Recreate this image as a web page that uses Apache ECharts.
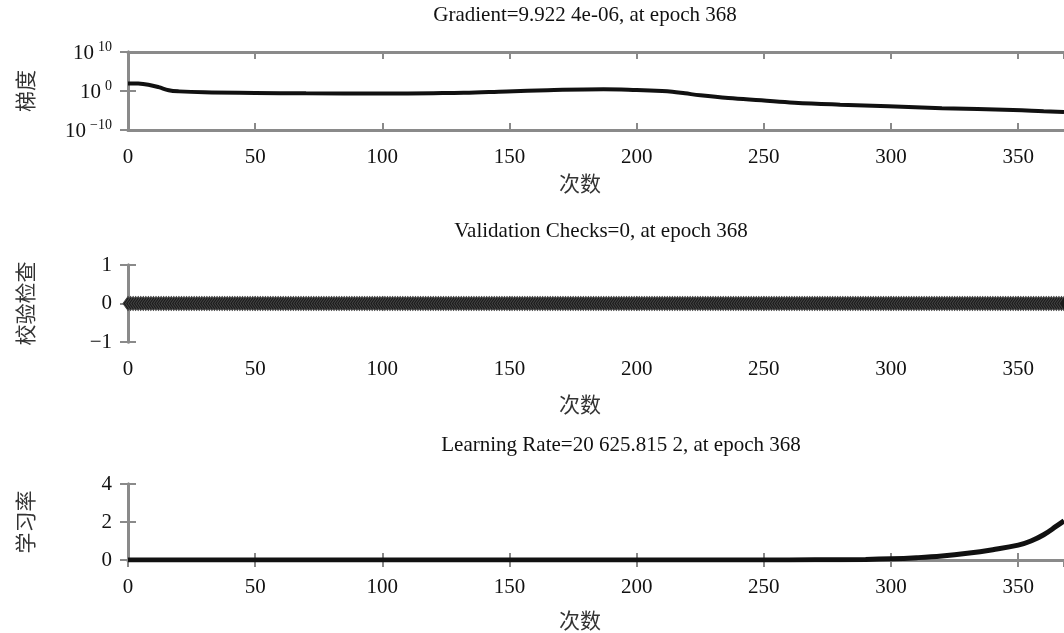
<!DOCTYPE html>
<html>
<head>
<meta charset="utf-8">
<script src="https://cdn.jsdelivr.net/npm/echarts@6/dist/echarts.min.js"></script>
<style>
  html, body { margin: 0; padding: 0; background: #fff; }
  #main { width: 1064px; height: 633px; }
</style>
</head>
<body>
<div id="main"></div>
<script>
// gradient
const gradEpochs = [0, 4, 8, 12, 16, 20, 30, 50, 70, 100, 120, 132, 149, 165, 187, 200, 210, 214, 219, 225, 236, 249, 262, 280, 299, 320, 348, 360, 368];
const gradValues = [90, 80, 40, 10, 1.6, 0.8, 0.45, 0.32, 0.25, 0.23, 0.28, 0.34, 0.8, 1.6, 2.8, 1.8, 1, 0.63, 0.25, 0.08, 0.016, 4e-3, 1e-3, 3.2e-4, 1.3e-4, 4e-5, 1.3e-5, 6.3e-6, 4e-6];

// validation checks: 0 at every epoch 0..368
const valEpochs = [];
for (let i = 0; i <= 368; i++) valEpochs.push(i);
const valChecks = valEpochs.map(() => 0);

// learning rate, in units of 10^4
const lrEpochs = [0, 50, 100, 150, 200, 250, 270, 290, 300, 310, 320, 330, 340, 350, 355, 360, 365, 368];
const lrValues = [0, 0, 0, 0, 0, 0, 0.01, 0.03, 0.06, 0.12, 0.21, 0.35, 0.54, 0.78, 1.0, 1.33, 1.78, 2.06];

const titles = ['Gradient=9.922 4e-06, at epoch 368', 'Validation Checks=0, at epoch 368', 'Learning Rate=20 625.815 2, at epoch 368'];
const yNames = ['梯度', '校验检查', '学习率'];
const xName = '次数';

const serif = 'Liberation Serif';
const cjk = 'Noto Sans CJK SC';
const frame = '#8a8a8a';
const fs = 21;

const grids = [
  { left: 128, top: 52, width: 942, height: 78 },
  { left: 128, top: 265, width: 942, height: 77 },
  { left: 128, top: 484, width: 942, height: 76 }
];

function pair(xs, ys) { return xs.map((x, i) => [x, ys[i]]); }

const xAxes = [];
const yAxes = [];
grids.forEach((g, i) => {
  xAxes.push({
    type: 'value', gridIndex: i, min: 0, max: 368, interval: 50, position: 'bottom',
    axisLine: { lineStyle: { color: frame, width: 3 } },
    axisTick: { inside: true, length: 7, lineStyle: { color: frame, width: 2 } },
    axisLabel: { margin: 17, fontFamily: serif, fontSize: fs, color: '#111', showMaxLabel: false },
    splitLine: { show: false }
  });
  xAxes.push({
    type: 'value', gridIndex: i, min: 0, max: 368, interval: 50, position: 'top',
    axisLine: { lineStyle: { color: frame, width: 3 } },
    axisTick: { inside: true, length: 7, lineStyle: { color: frame, width: 2 } },
    axisLabel: { show: false }, splitLine: { show: false }
  });
});

const yLabel = { margin: 16, fontFamily: serif, fontSize: fs, color: '#111' };
const yName = { fontFamily: cjk, fontSize: fs, color: '#333' };
const yCommon = {
  axisLine: { show: true, lineStyle: { color: frame, width: 3 } },
  axisTick: { inside: true, length: 8, lineStyle: { color: frame, width: 2 } },
  splitLine: { show: false }
};

// panel 1: log axis
yAxes.push(Object.assign({}, yCommon, {
  type: 'log', logBase: 10, gridIndex: 0, min: 1e-10, max: 1e10, splitNumber: 2, position: 'left',
  name: yNames[0], nameLocation: 'middle', nameGap: 92, nameTextStyle: yName,
  axisLabel: Object.assign({}, yLabel, {
    formatter: v => {
      const e = Math.round(Math.log10(v));
      return '{b|10}{s|' + (e < 0 ? '−' + (-e) : e) + '}';
    },
    rich: {
      b: { fontFamily: serif, fontSize: fs, color: '#111', verticalAlign: 'bottom', lineHeight: 24 },
      s: { fontFamily: serif, fontSize: 14, color: '#111', verticalAlign: 'top', padding: [0, 0, 0, 4] }
    }
  })
}));
yAxes.push(Object.assign({}, yCommon, {
  type: 'log', logBase: 10, gridIndex: 0, min: 1e-10, max: 1e10, splitNumber: 2, position: 'right',
  axisLabel: { show: false }
}));

const minusFmt = v => (v < 0 ? '−' + (-v) : String(v));
yAxes.push(Object.assign({}, yCommon, {
  type: 'value', gridIndex: 1, min: -1, max: 1, interval: 1, position: 'left',
  name: yNames[1], nameLocation: 'middle', nameGap: 92, nameTextStyle: yName,
  axisLabel: Object.assign({}, yLabel, { formatter: minusFmt })
}));
yAxes.push(Object.assign({}, yCommon, {
  type: 'value', gridIndex: 1, min: -1, max: 1, interval: 1, position: 'right', axisLabel: { show: false }
}));

yAxes.push(Object.assign({}, yCommon, {
  type: 'value', gridIndex: 2, min: 0, max: 4, interval: 2, position: 'left',
  name: yNames[2], nameLocation: 'middle', nameGap: 92, nameTextStyle: yName,
  axisLabel: yLabel
}));
yAxes.push(Object.assign({}, yCommon, {
  type: 'value', gridIndex: 2, min: 0, max: 4, interval: 2, position: 'right', axisLabel: { show: false }
}));

const titleStyle = { fontFamily: serif, fontSize: fs, fontWeight: 'normal', color: '#111' };
const xNameStyle = { fontFamily: cjk, fontSize: fs, fontWeight: 'normal', color: '#333' };

const option = {
  animation: false,
  backgroundColor: '#fff',
  title: [
    { text: titles[0], left: 585, top: 5, textAlign: 'center', textStyle: titleStyle, padding: 0 },
    { text: titles[1], left: 601, top: 221, textAlign: 'center', textStyle: titleStyle, padding: 0 },
    { text: titles[2], left: 621, top: 435, textAlign: 'center', textStyle: titleStyle, padding: 0 },
    { text: xName, left: 580, top: 173, textAlign: 'center', textStyle: xNameStyle, padding: 0 },
    { text: xName, left: 580, top: 394, textAlign: 'center', textStyle: xNameStyle, padding: 0 },
    { text: xName, left: 580, top: 610, textAlign: 'center', textStyle: xNameStyle, padding: 0 }
  ],
  grid: grids,
  xAxis: xAxes,
  yAxis: yAxes,
  series: [
    {
      type: 'line', xAxisIndex: 0, yAxisIndex: 0, data: pair(gradEpochs, gradValues),
      smooth: 0.4, showSymbol: false, lineStyle: { color: '#111', width: 4 }
    },
    {
      type: 'line', xAxisIndex: 2, yAxisIndex: 2, data: pair(valEpochs, valChecks),
      symbol: 'diamond', symbolSize: [10, 14], showAllSymbol: true, clip: false,
      itemStyle: { color: '#1a1a1a', borderColor: '#444', borderWidth: 1 },
      lineStyle: { color: '#111', width: 3 }
    },
    {
      type: 'line', xAxisIndex: 4, yAxisIndex: 4, data: pair(lrEpochs, lrValues),
      smooth: 0.4, showSymbol: false, lineStyle: { color: '#111', width: 5 }
    }
  ]
};

const myChart = echarts.init(document.getElementById('main'));
myChart.setOption(option);
</script>
</body>
</html>
